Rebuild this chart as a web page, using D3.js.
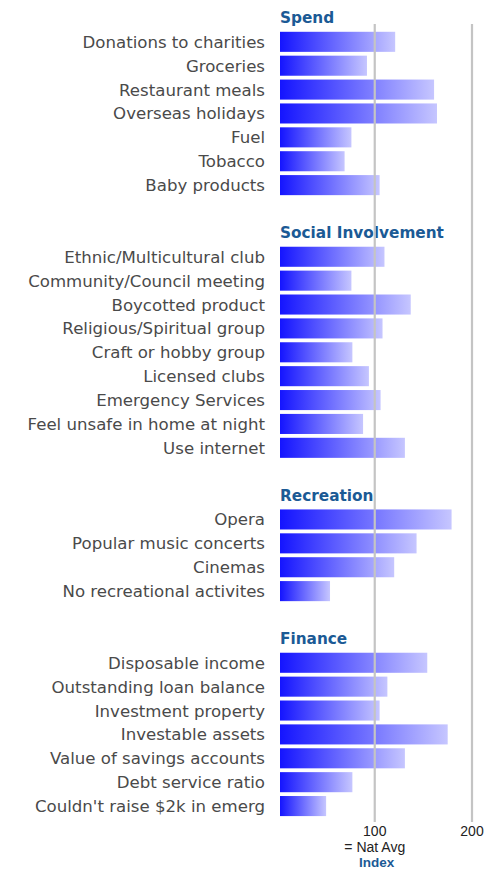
<!DOCTYPE html>
<html><head><meta charset="utf-8">
<script src="https://cdn.jsdelivr.net/npm/d3@7"></script>
<style>body{margin:0;background:#fff}svg{display:block}</style>
</head><body>
<script>
const groups = ["Spend","Social Involvement","Recreation","Finance"];
const spendCats = ["Donations to charities","Groceries","Restaurant meals","Overseas holidays","Fuel","Tobacco","Baby products"];
const spendVals = [121,92,161,164,76,69,105];
const socialCats = ["Ethnic/Multicultural club","Community/Council meeting","Boycotted product","Religious/Spiritual group","Craft or hobby group","Licensed clubs","Emergency Services","Feel unsafe in home at night","Use internet"];
const socialVals = [110,76,137,108,77,94,106,88,131];
const recCats = ["Opera","Popular music concerts","Cinemas","No recreational activites"];
const recVals = [179,143,120,54];
const finCats = ["Disposable income","Outstanding loan balance","Investment property","Investable assets","Value of savings accounts","Debt service ratio","Couldn't raise $2k in emerg"];
const finVals = [154,113,105,175,131,77,50];
const tickVals = [100,200];
const tickLabels = ["100","200"];
const axisNote = "= Nat Avg";
const axisTitle = "Index";

const W=488,H=872;
const svg=d3.select("body").append("svg").attr("width",W).attr("height",H);
const defs=svg.append("defs");
const grad=defs.append("linearGradient").attr("id","bg").attr("x1","0").attr("x2","1").attr("y1","0").attr("y2","0");
grad.append("stop").attr("offset","0").attr("stop-color","#1414ff");
grad.append("stop").attr("offset","1").attr("stop-color","#c6c6ff");

const sets=[[spendCats,spendVals],[socialCats,socialVals],[recCats,recVals],[finCats,finVals]];
const rows=[];
sets.forEach((s,gi)=>{
  rows.push({type:"h",label:groups[gi],key:"h"+gi});
  s[0].forEach((c,i)=>rows.push({type:"b",label:c,value:s[1][i],key:"b"+gi+"_"+i}));
  if(gi<sets.length-1) rows.push({type:"s",key:"s"+gi});
});
const y=d3.scaleBand().domain(rows.map(r=>r.key)).range([6,818]).paddingInner(0.16).paddingOuter(0.08);
const x=d3.scaleLinear().domain([0,200]).range([277.5,472]);
const x0=280;

const bars=rows.filter(r=>r.type==="b");
svg.append("g").selectAll("rect").data(bars).join("rect")
  .attr("x",x0).attr("y",d=>y(d.key)).attr("height",y.bandwidth())
  .attr("width",d=>x(d.value)-x0).attr("fill","url(#bg)");

svg.append("g").selectAll("text").data(bars).join("text")
  .attr("x",265).attr("y",d=>y(d.key)+y.bandwidth()/2).attr("dy","0.36em")
  .attr("text-anchor","end").attr("fill","#4a4a4a")
  .style("font-family","'DejaVu Sans'").style("font-size","16.6px")
  .text(d=>d.label);

svg.append("g").selectAll("text").data(rows.filter(r=>r.type==="h")).join("text")
  .attr("x",280).attr("y",d=>y(d.key)+y.bandwidth()/2).attr("dy","0.36em")
  .attr("fill","#1b5a95").style("font-family","'DejaVu Sans'").style("font-weight","bold").style("font-size","15.3px")
  .text(d=>d.label);

const g=svg.append("g");
g.selectAll("line").data(tickVals).join("line")
  .attr("x1",d=>x(d)).attr("x2",d=>x(d)).attr("y1",24).attr("y2",822)
  .attr("stroke","#c4c4c4").attr("stroke-width",2.2);
g.selectAll("text").data(tickVals).join("text")
  .attr("x",d=>x(d)).attr("y",836).attr("text-anchor","middle").attr("fill","#222")
  .style("font-family","'Liberation Sans'").style("font-size","14px")
  .text((d,i)=>tickLabels[i]);
svg.append("text").attr("x",x(100)).attr("y",852).attr("text-anchor","middle").attr("fill","#222")
  .style("font-family","'Liberation Sans'").style("font-size","14px").text(axisNote);
svg.append("text").attr("x",x(100)+2).attr("y",867).attr("text-anchor","middle").attr("fill","#1b5a95")
  .style("font-family","'Liberation Sans'").style("font-weight","bold").style("font-size","13.5px").text(axisTitle);
</script>
</body></html>
